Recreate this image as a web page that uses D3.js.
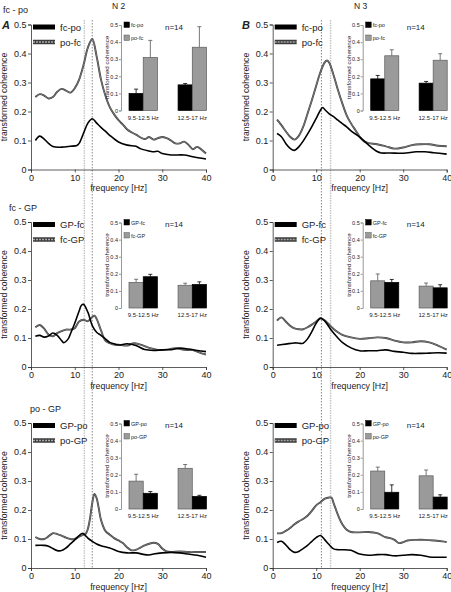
<!DOCTYPE html>
<html><head><meta charset="utf-8">
<script src="https://cdn.jsdelivr.net/npm/d3@7"></script>
<style>
body{margin:0;background:#fff}
svg text{font-family:"Liberation Sans",Arial,Helvetica,sans-serif;fill:#222}
</style>
</head><body>
<svg id="c" width="451" height="592"></svg>
<script>
// ---------- DATA ----------
// Row 1 : fc - po
const fA1Black = [1,2,3,4,5,7,9,10.5,11,12,13,14,15,16,17,18,20,22,24,25,27,28,29,30,32,35,37,40];
const vA1Black = [0.100,0.115,0.105,0.090,0.079,0.077,0.080,0.083,0.090,0.125,0.160,0.175,0.160,0.145,0.132,0.118,0.095,0.084,0.080,0.072,0.064,0.061,0.063,0.055,0.050,0.050,0.044,0.036];
const fA1Gray = [1,2,3,4,5,6,7,8,9,10,11,12,13,14,15,16,17,18,19,20,21,22,24,26,27,28,29,30,31,32,33,34,35,36,37,38,39,40];
const vA1Gray = [0.250,0.260,0.255,0.245,0.250,0.268,0.278,0.272,0.265,0.280,0.310,0.360,0.420,0.450,0.390,0.310,0.255,0.215,0.190,0.170,0.155,0.138,0.120,0.105,0.112,0.103,0.108,0.112,0.108,0.100,0.090,0.090,0.096,0.085,0.070,0.078,0.068,0.055];
const fB1Black = [1,2,3,4,5,6,7,8,9,10,11,11.5,12,13,14,15,16,17,18,20,22,24,25,27,30,33,35,37,40];
const vB1Black = [0.124,0.113,0.090,0.073,0.066,0.078,0.098,0.122,0.148,0.176,0.205,0.214,0.206,0.192,0.182,0.170,0.158,0.147,0.133,0.112,0.085,0.062,0.057,0.057,0.056,0.061,0.061,0.058,0.053];
const fB1Gray = [1,2,3,4,5,6,7,8,9,10,11,12,12.5,13,14,15,16,17,18,19,20,21,22,24,26,28,30,32,34,36,38,40];
const vB1Gray = [0.172,0.153,0.132,0.113,0.103,0.116,0.147,0.192,0.239,0.289,0.337,0.370,0.376,0.368,0.325,0.274,0.228,0.187,0.159,0.136,0.113,0.097,0.091,0.087,0.080,0.072,0.076,0.084,0.087,0.087,0.082,0.080];
// Row 2 : fc - GP
const fA2Black = [1,2,3,4,5,6,7,7.5,8.5,9,10,11,11.5,12,13,14,15,16,17,18,19,20,22,24,26,28,30,32,34,36,38,40];
const vA2Black = [0.106,0.109,0.103,0.107,0.117,0.109,0.091,0.084,0.097,0.114,0.151,0.193,0.212,0.216,0.189,0.143,0.120,0.109,0.097,0.085,0.080,0.076,0.080,0.074,0.060,0.057,0.059,0.060,0.065,0.062,0.057,0.053];
const fA2Gray = [1,2,3,4,5,6,7,8,9,10,11,12,13,14,14.5,15,16,17,18,19,20,22,23.5,25,27,29,31,33,35,37,39,40];
const vA2Gray = [0.137,0.145,0.132,0.112,0.106,0.117,0.124,0.129,0.129,0.134,0.157,0.163,0.158,0.172,0.177,0.166,0.126,0.091,0.082,0.077,0.077,0.074,0.082,0.077,0.066,0.059,0.060,0.065,0.059,0.058,0.047,0.043];
const fB2Black = [1,3,5,6,7,8,9,10,11,12,13,14,15,16,18,20,22,24,26,28,30,32,34,36,38,40];
const vB2Black = [0.075,0.079,0.083,0.082,0.082,0.097,0.122,0.151,0.168,0.158,0.137,0.117,0.100,0.085,0.066,0.056,0.056,0.056,0.059,0.054,0.051,0.047,0.047,0.048,0.049,0.048];
const fB2Gray = [1,2,3,4,5,6,7,8,9,10,11,12,13,14,15,16,18,20,22,24,26,28,30,32,34,36,38,40];
const vB2Gray = [0.160,0.171,0.157,0.142,0.133,0.130,0.130,0.137,0.146,0.157,0.168,0.160,0.146,0.131,0.120,0.111,0.102,0.097,0.099,0.102,0.100,0.091,0.085,0.085,0.089,0.085,0.074,0.060];
// Row 3 : po - GP
const fA3Black = [1,3,4,5,6,7,8,9,10,11,11.8,12.5,13,14,15,16,18,20,22,24,26,27,28,30,32,34,36,38,40];
const vA3Black = [0.078,0.078,0.075,0.067,0.060,0.060,0.069,0.083,0.097,0.112,0.120,0.111,0.103,0.092,0.083,0.077,0.069,0.057,0.052,0.052,0.046,0.045,0.048,0.052,0.054,0.052,0.048,0.044,0.037];
const fA3Gray = [1,2,3,4,5,6,7,8,9,10,11,12,12.5,13,13.5,14,14.5,15,15.5,16,17,18,19,20,21,22,23,24,25,26,28,29,30,31,32,34,36,38,40];
const vA3Gray = [0.107,0.100,0.100,0.109,0.120,0.117,0.112,0.105,0.100,0.100,0.108,0.115,0.118,0.135,0.172,0.224,0.255,0.241,0.205,0.166,0.128,0.115,0.103,0.095,0.086,0.071,0.061,0.063,0.070,0.078,0.087,0.083,0.067,0.057,0.055,0.057,0.055,0.055,0.055];
const fB3Black = [1,2,3,4,5,6,7,8,9,10,11,12,13,14,15,16,18,20,22,24,26,28,30,32,34,36,38,40];
const vB3Black = [0.088,0.092,0.080,0.063,0.054,0.057,0.067,0.078,0.092,0.105,0.112,0.097,0.080,0.066,0.063,0.063,0.061,0.048,0.044,0.046,0.046,0.042,0.044,0.046,0.044,0.038,0.037,0.037];
const fB3Gray = [1,2,3,4,5,6,7,8,9,10,11,12,13,13.5,14,15,16,17,18,20,22,24,26,27,28,29,30,31,33,35,37,39,40];
const vB3Gray = [0.120,0.120,0.128,0.138,0.151,0.161,0.169,0.180,0.197,0.216,0.227,0.239,0.243,0.243,0.224,0.183,0.151,0.132,0.124,0.123,0.124,0.120,0.106,0.103,0.097,0.086,0.089,0.095,0.097,0.097,0.095,0.092,0.089];

// Series names (black, gray) per row
const rowTitles = ["fc - po","fc - GP","po - GP"];
const blackNames = ["fc-po","GP-fc","GP-po"];
const grayNames = ["po-fc","fc-GP","po-GP"];
const colLetters = ["A","B"];
const colHeaders = ["N 2","N 3"];

// Insets: band categories, means and SEMs
const bandCats = ["9.5-12.5 Hz","12.5-17 Hz"];
const insetN = "n=14";
const inA1Black = [0.100,0.150], seA1Black = [0.025,0.008];
const inA1Gray  = [0.310,0.370], seA1Gray  = [0.100,0.120];
const inB1Black = [0.185,0.160], seB1Black = [0.020,0.010];
const inB1Gray  = [0.320,0.294], seB1Gray  = [0.035,0.038];
const inA2Black = [0.183,0.138], seA2Black = [0.014,0.015];
const inA2Gray  = [0.150,0.133], seA2Gray  = [0.018,0.012];
const inB2Black = [0.150,0.118], seB2Black = [0.017,0.018];
const inB2Gray  = [0.159,0.128], seB2Gray  = [0.040,0.018];
const inA3Black = [0.092,0.074], seA3Black = [0.010,0.006];
const inA3Gray  = [0.163,0.238], seA3Gray  = [0.040,0.022];
const inB3Black = [0.098,0.070], seB3Black = [0.043,0.013];
const inB3Gray  = [0.222,0.194], seB3Gray  = [0.023,0.034];

// Dotted reference frequencies per column [light, dark]
const refLight = [12.2, 13.3];
const refDark  = [14.0, 11.2];

const yTicks = [0,0.1,0.2,0.3,0.4,0.5];
const xTicks = [0,10,20,30,40];

// ---------- BUILD ----------
const zip = (f,v) => f.map((d,i)=>({f:d,v:v[i]}));
const panels = [
 {col:0,row:0,black:zip(fA1Black,vA1Black),gray:zip(fA1Gray,vA1Gray),ib:inA1Black,sb:seA1Black,ig:inA1Gray,sg:seA1Gray,order:["black","gray"]},
 {col:1,row:0,black:zip(fB1Black,vB1Black),gray:zip(fB1Gray,vB1Gray),ib:inB1Black,sb:seB1Black,ig:inB1Gray,sg:seB1Gray,order:["black","gray"]},
 {col:0,row:1,black:zip(fA2Black,vA2Black),gray:zip(fA2Gray,vA2Gray),ib:inA2Black,sb:seA2Black,ig:inA2Gray,sg:seA2Gray,order:["gray","black"]},
 {col:1,row:1,black:zip(fB2Black,vB2Black),gray:zip(fB2Gray,vB2Gray),ib:inB2Black,sb:seB2Black,ig:inB2Gray,sg:seB2Gray,order:["gray","black"]},
 {col:0,row:2,black:zip(fA3Black,vA3Black),gray:zip(fA3Gray,vA3Gray),ib:inA3Black,sb:seA3Black,ig:inA3Gray,sg:seA3Gray,order:["gray","black"]},
 {col:1,row:2,black:zip(fB3Black,vB3Black),gray:zip(fB3Gray,vB3Gray),ib:inB3Black,sb:seB3Black,ig:inB3Gray,sg:seB3Gray,order:["gray","black"]}
];

const svg = d3.select("#c");
const colL = [31, 272.7], colR = [206, 446.7];
const rowT = [24.5, 222, 423], H = 145;
const titleX = [3, 9, 30], titleY = [13, 210.5, 411.5];

// header texts
colLetters.forEach((t,i)=>svg.append("text").attr("x",[2,242][i]).attr("y",29)
  .style("font-size","11px").style("font-weight","bold").style("font-style","italic").text(t));
colHeaders.forEach((t,i)=>svg.append("text").attr("x",[112,354][i]).attr("y",9)
  .style("font-size","8.5px").text(t));
rowTitles.forEach((t,i)=>svg.append("text").attr("x",titleX[i]).attr("y",titleY[i])
  .style("font-size","9px").text(t));

// dotted reference lines
[0,1].forEach(c=>{
  const x = d3.scaleLinear([0,40],[colL[c],colR[c]]);
  svg.append("line").attr("x1",x(refLight[c])).attr("x2",x(refLight[c])).attr("y1",20).attr("y2",568)
    .attr("stroke","#c4c4c4").attr("stroke-width",1.4).attr("stroke-dasharray","1.5,1");
  svg.append("line").attr("x1",x(refDark[c])).attr("x2",x(refDark[c])).attr("y1",20).attr("y2",568)
    .attr("stroke","#6a6a6a").attr("stroke-width",0.8).attr("stroke-dasharray","1.5,1.5");
});

panels.forEach(p=>{
  const L = colL[p.col], R = colR[p.col], T = rowT[p.row], B = T+H;
  const x = d3.scaleLinear([0,40],[L,R]);
  const y = d3.scaleLinear([0,0.5],[B,T]);
  const g = svg.append("g");

  const ya = g.append("g").attr("transform",`translate(${L},0)`)
    .call(d3.axisLeft(y).tickValues(yTicks).tickSize(3).tickPadding(1.5)
      .tickFormat(d=>d===0?"0":d3.format(".1f")(d)));
  const xa = g.append("g").attr("transform",`translate(0,${B})`)
    .call(d3.axisBottom(x).tickValues(xTicks).tickSize(3).tickPadding(2));
  [ya,xa].forEach(a=>{a.selectAll("text").style("font-size","9px").attr("fill","#222");
    a.selectAll("path,line").attr("stroke","#333").attr("stroke-width",0.8);});

  g.append("text").attr("transform",`translate(${L-24},${(T+B)/2}) rotate(-90)`)
    .attr("text-anchor","middle").style("font-size","8.6px").text("transformed coherence");
  g.append("text").attr("x",(L+R)/2).attr("y",B+21.5).attr("text-anchor","middle")
    .style("font-size","8.8px").text("frequency [Hz]");

  const line = d3.line().x(d=>x(d.f)).y(d=>y(d.v)).curve(d3.curveCatmullRom.alpha(0.5));
  g.append("path").datum(p.gray).attr("d",line).attr("fill","none").attr("stroke","#3c3c3c").attr("stroke-width",1.9);
  g.append("path").datum(p.gray).attr("d",line).attr("fill","none").attr("stroke","#a0a0a0").attr("stroke-width",0.6);
  g.append("path").datum(p.black).attr("d",line).attr("fill","none").attr("stroke","#000").attr("stroke-width",1.6);

  // main legend
  const lg = g.append("g");
  lg.append("line").attr("x1",L+2).attr("x2",L+24).attr("y1",T+2.5).attr("y2",T+2.5).attr("stroke","#000").attr("stroke-width",5);
  lg.append("line").attr("x1",L+2).attr("x2",L+24).attr("y1",T+17.5).attr("y2",T+17.5).attr("stroke","#3c3c3c").attr("stroke-width",4.5);
  lg.append("line").attr("x1",L+2).attr("x2",L+24).attr("y1",T+17.5).attr("y2",T+17.5).attr("stroke","#a8a8a8").attr("stroke-width",1.3).attr("stroke-dasharray","2,1");
  lg.append("text").attr("x",L+29).attr("y",T+6).style("font-size","9.5px").text(blackNames[p.row]);
  lg.append("text").attr("x",L+29).attr("y",T+21).style("font-size","9.5px").text(grayNames[p.row]);

  // inset
  const ax = L+90, bx0 = L+98, bx1 = R+0.5;
  const yi = d3.scaleLinear([0,0.5],[T+86,T+0.5]);
  const xb = d3.scaleBand(bandCats,[bx0,bx1]).paddingInner(0.42);
  const xs = d3.scaleBand(p.order,[0,xb.bandwidth()]);
  const ia = g.append("g").attr("transform",`translate(${ax},0)`)
    .call(d3.axisLeft(yi).tickValues(yTicks).tickSize(2).tickPadding(1)
      .tickFormat(d=>d===0?"0":d3.format(".1f")(d)));
  ia.selectAll("text").style("font-size","5.5px").attr("fill","#444");
  ia.selectAll("path,line").attr("stroke","#999").attr("stroke-width",1);
  g.append("text").attr("transform",`translate(${ax-12},${T+43}) rotate(-90)`)
    .attr("text-anchor","middle").style("font-size","6.2px").attr("fill","#333").text("transformed coherence");

  const ser = {black:{m:p.ib,s:p.sb,fill:"#000",stroke:"#000",eb:"#000"},
               gray:{m:p.ig,s:p.sg,fill:"#9a9a9a",stroke:"#5a5a5a",eb:"#555"}};
  bandCats.forEach((c,ci)=>{
    p.order.forEach(k=>{
      const s = ser[k], bx = xb(c)+xs(k), bw = xs.bandwidth(), cx = bx+bw/2;
      const m = s.m[ci], e = m + s.s[ci];
      g.append("line").attr("x1",cx).attr("x2",cx).attr("y1",yi(m)).attr("y2",yi(e)).attr("stroke",s.eb).attr("stroke-width",0.8);
      g.append("line").attr("x1",cx-2).attr("x2",cx+2).attr("y1",yi(e)).attr("y2",yi(e)).attr("stroke",s.eb).attr("stroke-width",0.8);
      g.append("rect").attr("x",bx).attr("y",yi(m)).attr("width",bw).attr("height",yi(0)-yi(m))
        .attr("fill",s.fill).attr("stroke",s.stroke).attr("stroke-width",0.7);
    });
    g.append("text").attr("x",xb(c)+xb.bandwidth()/2).attr("y",T+95).attr("text-anchor","middle")
      .style("font-size","6px").attr("fill","#333").text(c);
  });
  // inset legend
  [["black",blackNames[p.row]],["gray",grayNames[p.row]]].forEach(([k,nm],i)=>{
    g.append("rect").attr("x",ax+3).attr("y",T-2.5+i*13).attr("width",5.5).attr("height",5.5)
      .attr("fill",ser[k].fill).attr("stroke",ser[k].stroke).attr("stroke-width",0.5);
    g.append("text").attr("x",ax+10).attr("y",T+2.5+i*13).style("font-size","5.5px").attr("fill","#333").text(nm);
  });
  g.append("text").attr("x",L+134).attr("y",T+5).style("font-size","8px").text(insetN);
});
</script>
</body></html>
